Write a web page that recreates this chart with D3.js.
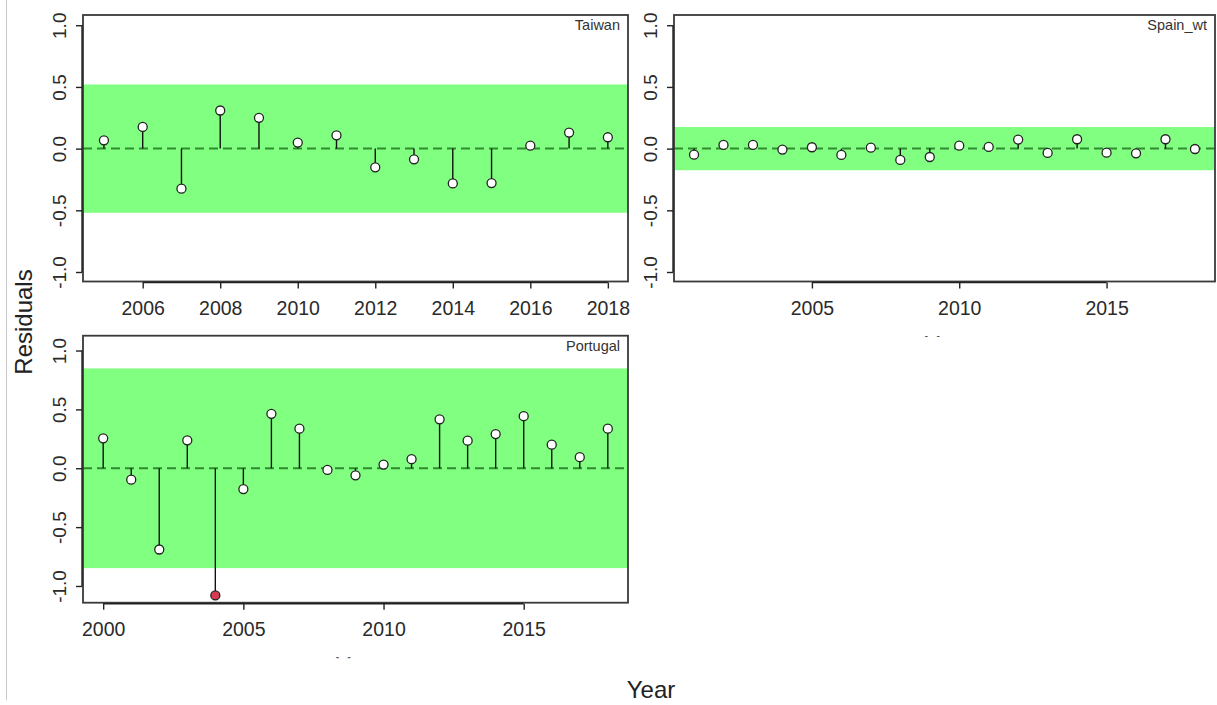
<!DOCTYPE html>
<html lang="en">
<head>
<meta charset="UTF-8">
<title>Residuals</title>
<script src="https://d3js.org/d3.v7.min.js"></script>
<style>
  body { margin: 0; background: #fff; }
  svg { display: block; font-family: "Liberation Sans", Arial, sans-serif; }
</style>
</head>
<body>
<svg id="chart" width="1217" height="705"></svg>
<script>
// residuals
const taiwanYears = [2005, 2006, 2007, 2008, 2009, 2010, 2011, 2012, 2013, 2014, 2015, 2016, 2017, 2018];
const taiwanResid = [0.067, 0.176, -0.325, 0.309, 0.25, 0.049, 0.108, -0.152, -0.087, -0.282, -0.279, 0.024, 0.13, 0.092];

const spainYears = [2001, 2002, 2003, 2004, 2005, 2006, 2007, 2008, 2009, 2010, 2011, 2012, 2013, 2014, 2015, 2016, 2017, 2018];
const spainResid = [-0.049, 0.03, 0.03, -0.008, 0.011, -0.051, 0.008, -0.092, -0.068, 0.024, 0.014, 0.073, -0.035, 0.076, -0.033, -0.038, 0.076, -0.003];

const portugalYears = [2000, 2001, 2002, 2003, 2004, 2005, 2006, 2007, 2008, 2009, 2010, 2011, 2012, 2013, 2014, 2015, 2016, 2017, 2018];
const portugalResid = [0.254, -0.097, -0.69, 0.237, -1.08, -0.177, 0.462, 0.336, -0.014, -0.06, 0.031, 0.077, 0.416, 0.234, 0.29, 0.442, 0.2, 0.094, 0.336];

const panelNames = ["Taiwan", "Spain_wt", "Portugal"];
const bandLimits = [0.52, 0.175, 0.848];   // half width of green band
const yTicks = [-1.0, -0.5, 0.0, 0.5, 1.0];
const taiwanXTicks = [2006, 2008, 2010, 2012, 2014, 2016, 2018];
const spainXTicks = [2005, 2010, 2015];
const portugalXTicks = [2000, 2005, 2010, 2015];

const yLabel = "Residuals";
const xLabel = "Year";

// panel layout
const panels = [
  { name: panelNames[0], years: taiwanYears, resid: taiwanResid, band: bandLimits[0], xTicks: taiwanXTicks,
    x0: 83, x1: 628, y0: 15, y1: 281.5, xDom: [2004.46, 2018.52], yDom: [-1.077, 1.083], stub: false },
  { name: panelNames[1], years: spainYears, resid: spainResid, band: bandLimits[1], xTicks: spainXTicks,
    x0: 674, x1: 1215, y0: 15, y1: 281.5, xDom: [2000.32, 2018.68], yDom: [-1.077, 1.083], stub: true },
  { name: panelNames[2], years: portugalYears, resid: portugalResid, band: bandLimits[2], xTicks: portugalXTicks,
    x0: 83, x1: 628, y0: 335.7, y1: 602.7, xDom: [1999.28, 2018.72], yDom: [-1.142, 1.126], stub: true }
];

const svg = d3.select("#chart");
svg.append("rect").attr("width", 1217).attr("height", 705).attr("fill", "#fff");

// thin grey line at the far left of the page
svg.append("line")
  .attr("x1", 6.5).attr("x2", 6.5).attr("y1", 0).attr("y2", 700)
  .attr("stroke", "#c8c8c8").attr("stroke-width", 1);

const fmt = d => d3.format(".1f")(d).replace("−", "-");

panels.forEach((p, pi) => {
  const x = d3.scaleLinear().domain(p.xDom).range([p.x0, p.x1]);
  const y = d3.scaleLinear().domain(p.yDom).range([p.y1, p.y0]);
  const g = svg.append("g");

  // clipped x label of each panel (only the tips of the Y show)
  if (p.stub) {
    const cid = "clip" + pi;
    svg.append("clipPath").attr("id", cid)
      .append("rect").attr("x", p.x0).attr("y", p.y1 + 53).attr("width", p.x1 - p.x0).attr("height", 2.5);
    g.append("text")
      .attr("clip-path", "url(#" + cid + ")")
      .attr("x", (p.x0 + p.x1) / 2 + 4).attr("y", p.y1 + 71.5)
      .attr("text-anchor", "middle").attr("font-size", 24).attr("fill", "#555")
      .text(xLabel);
  }

  // green band
  g.append("rect")
    .attr("x", p.x0).attr("width", p.x1 - p.x0)
    .attr("y", y(p.band)).attr("height", y(-p.band) - y(p.band))
    .attr("fill", "#80ff80");

  // zero line
  g.append("line")
    .attr("x1", p.x0).attr("x2", p.x1).attr("y1", y(0)).attr("y2", y(0))
    .attr("stroke", "#2e8b2e").attr("stroke-width", 2).attr("stroke-dasharray", "9,5");

  // stems
  g.selectAll(".stem").data(p.resid).enter().append("line")
    .attr("x1", (d, i) => x(p.years[i])).attr("x2", (d, i) => x(p.years[i]))
    .attr("y1", y(0)).attr("y2", d => y(d))
    .attr("stroke", "#111").attr("stroke-width", 1.4);

  // points
  g.selectAll(".pt").data(p.resid).enter().append("circle")
    .attr("cx", (d, i) => x(p.years[i])).attr("cy", d => y(d)).attr("r", 4.5)
    .attr("fill", d => Math.abs(d) > p.band ? "#d93a52" : "#fff")
    .attr("stroke", "#222").attr("stroke-width", 1.3);

  // box
  g.append("rect")
    .attr("x", p.x0).attr("y", p.y0).attr("width", p.x1 - p.x0).attr("height", p.y1 - p.y0)
    .attr("fill", "none").attr("stroke", "#3a3a3a").attr("stroke-width", 1.8);

  // x axis
  const xa = g.append("g").attr("transform", "translate(0," + (p.y1 + 1) + ")")
    .call(d3.axisBottom(x).tickValues(p.xTicks).tickFormat(d3.format("d")).tickSize(6));
  xa.select(".domain").remove();
  xa.append("line")
    .attr("x1", x(p.xTicks[0])).attr("x2", x(p.xTicks[p.xTicks.length - 1]))
    .attr("stroke", "#222").attr("stroke-width", 1.4);
  xa.selectAll(".tick line").attr("stroke", "#222").attr("stroke-width", 1.4);
  xa.selectAll(".tick text")
    .attr("y", 32).attr("dy", 0)
    .attr("font-size", 19.5).attr("fill", "#2a2a2a")
    .attr("font-family", "'Liberation Sans', Arial, sans-serif");

  // y axis
  const ya = g.append("g").attr("transform", "translate(" + (p.x0 - 1) + ",0)")
    .call(d3.axisLeft(y).tickValues(yTicks).tickFormat(fmt).tickSize(6));
  ya.select(".domain").remove();
  ya.append("line")
    .attr("y1", y(yTicks[0])).attr("y2", y(yTicks[yTicks.length - 1]))
    .attr("stroke", "#222").attr("stroke-width", 1.4);
  ya.selectAll(".tick line").attr("stroke", "#222").attr("stroke-width", 1.4);
  ya.selectAll(".tick text")
    .attr("transform", "rotate(-90)")
    .attr("x", 0).attr("y", -16).attr("dy", 0)
    .attr("text-anchor", "middle")
    .attr("font-size", 19).attr("fill", "#2a2a2a")
    .attr("font-family", "'Liberation Sans', Arial, sans-serif");

  // panel name
  g.append("text")
    .attr("x", p.x1 - 8).attr("y", p.y0 + 15)
    .attr("text-anchor", "end").attr("font-size", 14.5).attr("fill", "#333")
    .text(p.name);
});

// outer labels
svg.append("text")
  .attr("transform", "translate(32,322) rotate(-90)")
  .attr("text-anchor", "middle").attr("font-size", 24).attr("fill", "#222")
  .text(yLabel);

svg.append("text")
  .attr("x", 651).attr("y", 698)
  .attr("text-anchor", "middle").attr("font-size", 24).attr("fill", "#222")
  .text(xLabel);
</script>
</body>
</html>
